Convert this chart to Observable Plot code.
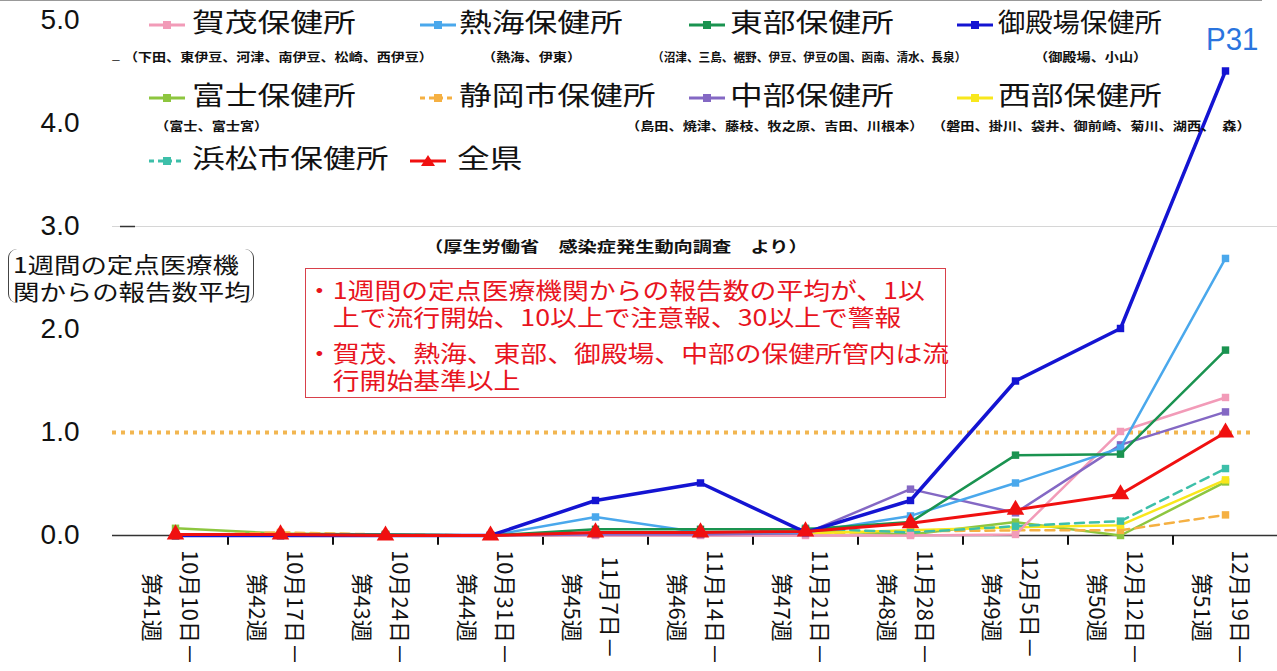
<!DOCTYPE html>
<html><head><meta charset="utf-8">
<script src="https://cdn.jsdelivr.net/npm/d3@7"></script>
<script src="https://cdn.jsdelivr.net/npm/@observablehq/plot@0.6"></script>
<style>
body{margin:0;background:#fff;}
#wrap{position:relative;width:1277px;height:671px;overflow:hidden;font-family:"Noto Sans CJK JP","Noto Sans",sans-serif;}
#chart{position:absolute;left:0;top:0;}
.abs{position:absolute;white-space:nowrap;line-height:1;}
.lg{font-size:26px;transform:scaleX(1.26);transform-origin:left center;color:#111;}
.sub{font-size:12px;font-weight:bold;transform:scaleX(1.18);transform-origin:left center;color:#111;}
.note{font-size:23px;color:#e8141e;transform:scaleX(1.165);transform-origin:left center;}
.yl{font-size:22px;color:#111;transform:scaleX(1.2);transform-origin:left center;}
</style></head>
<body><div id="wrap"><div id="chart"></div></div>
<script>
// ---- data ----
const weeks = ["第41週","第42週","第43週","第44週","第45週","第46週","第47週","第48週","第49週","第50週","第51週"];
const dates = ["10月10日－","10月17日－","10月24日－","10月31日－","11月7日－","11月14日－","11月21日－","11月28日－","12月5日－","12月12日－","12月19日－"];
const yTicks = [0, 1, 2, 3, 4, 5];
const seriesNames = ["賀茂保健所","熱海保健所","東部保健所","御殿場保健所","富士保健所","静岡市保健所","中部保健所","西部保健所","浜松市保健所","全県"];
const seriesAreas = ["（下田、東伊豆、河津、南伊豆、松崎、西伊豆）","（熱海、伊東）","（沼津、三島、裾野、伊豆、伊豆の国、函南、清水、長泉）","（御殿場、小山）","（富士、富士宮）","","（島田、焼津、藤枝、牧之原、吉田、川根本）","（磐田、掛川、袋井、御前崎、菊川、湖西、　森）","",""];
const kamo     = [0, 0, 0, 0, 0, 0, 0, 0, 0.01, 1.01, 1.34];
const atami    = [0, 0, 0, 0, 0.18, 0.03, 0.03, 0.19, 0.51, 0.85, 2.69];
const tobu     = [0, 0.01, 0.01, 0, 0.06, 0.06, 0.06, 0.13, 0.78, 0.79, 1.80];
const gotemba  = [0, 0, 0, 0, 0.34, 0.51, 0.03, 0.34, 1.50, 2.01, 4.51];
const fuji     = [0.07, 0.02, 0.01, 0, 0.02, 0.02, 0.05, 0.01, 0.13, 0, 0.52];
const shizuoka = [0, 0.03, 0.01, 0, 0.01, 0.01, 0.02, 0.04, 0.05, 0.05, 0.20];
const chubu    = [0, 0, 0, 0, 0.01, 0.01, 0.02, 0.45, 0.22, 0.88, 1.20];
const seibu    = [0, 0, 0, 0, 0.01, 0.01, 0.02, 0.05, 0.08, 0.10, 0.54];
const hamamatsu= [0, 0, 0, 0, 0.01, 0.01, 0.07, 0.03, 0.09, 0.14, 0.65];
const zenken   = [0.01, 0.01, 0, 0, 0.03, 0.03, 0.04, 0.12, 0.25, 0.40, 1.00];
const seriesValues = [kamo, atami, tobu, gotemba, fuji, shizuoka, chubu, seibu, hamamatsu, zenken];
const seriesColors = ["#f29bb8","#4aa8ec","#1a9350","#1414d2","#8dc63f","#f5b042","#8468c4","#f8e71c","#3dbfa9","#f01010"];
const seriesDashed = [false,false,false,false,false,true,false,false,true,false];
const drawOrder = [4,5,7,8,0,6,1,2,3,9];
const noteLines = ["・1週間の定点医療機関からの報告数の平均が、1以", "　上で流行開始、10以上で注意報、30以上で警報", "・賀茂、熱海、東部、御殿場、中部の保健所管内は流", "　行開始基準以上"];
const yLabelLines = ["1週間の定点医療機", "関からの報告数平均"];

// ---- build ----
const rows = [];
seriesNames.forEach((n, i) => seriesValues[i].forEach((v, j) => rows.push({series: n, week: weeks[j], value: v})));
const axisData = weeks.map((w, i) => ({week: w, label: dates[i] + "\n" + w}));

const marks = [
  Plot.ruleY([3], {stroke: "#d6d6d6", strokeWidth: 1}),
  Plot.ruleY([3], {stroke: "#333", strokeWidth: 1.5, insetLeft: 8, insetRight: 1142}),
  Plot.ruleY([1], {stroke: "#f2b650", strokeWidth: 4, strokeDasharray: "4,5", insetRight: 22}),
  Plot.ruleY([0], {stroke: "#333", strokeWidth: 1.5}),
  Plot.link(weeks.slice(0, -1), {x1: d => d, x2: d => d, y1: d => 0, y2: d => -0.09, dx: 52.5, stroke: "#111", strokeWidth: 2}),
  Plot.text(yTicks, {y: d => d, text: d => d.toFixed(1), frameAnchor: "left", dx: -33, textAnchor: "end", fontSize: 28, fontFamily: "Liberation Sans, Arial, sans-serif", fill: "#111", ariaLabel: "ytick"}),
  Plot.text(axisData, {x: "week", text: "label", frameAnchor: "bottom", dy: 72, rotate: 90, textAnchor: "middle", lineAnchor: "middle", lineHeight: 1.75, fontSize: 22, fill: "#111", ariaLabel: "xtick"})
];
for (const i of drawOrder) {
  const data = rows.filter(r => r.series === seriesNames[i]);
  const isAll = seriesNames[i] === "全県";
  marks.push(Plot.line(data, {x: "week", y: "value", stroke: seriesColors[i], strokeWidth: i === 3 ? 3.5 : (isAll ? 3 : 2.5), strokeDasharray: seriesDashed[i] ? "9,6" : null}));
  marks.push(Plot.dot(data, {x: "week", y: "value", symbol: isAll ? "triangle" : "square", r: isAll ? 6.5 : 4.2, fill: seriesColors[i], stroke: "none"}));
}

const chart = Plot.plot({
  width: 1277, height: 671,
  marginTop: 20, marginBottom: 136, marginLeft: 112, marginRight: 0,
  style: {fontFamily: "'Noto Sans CJK JP', sans-serif", background: "transparent"},
  x: {type: "point", domain: weeks, padding: 0.5, insetLeft: 10, axis: null},
  y: {domain: [0, 5], axis: null},
  marks
});
document.getElementById("chart").appendChild(chart);
// widen glyphs like the reference (horizontally stretched artwork)
chart.querySelectorAll('g[aria-label="ytick"] text').forEach(t => t.setAttribute("transform", t.getAttribute("transform") + " scale(1.3,1)"));
chart.querySelectorAll('g[aria-label="xtick"] text').forEach(t => t.setAttribute("transform", t.getAttribute("transform") + " scale(1,1.22)"));

// ---- overlay text: legend, notes ----
const wrap = document.getElementById("wrap");
function add(html, left, top, cls, style) {
  const d = document.createElement("div");
  d.className = "abs " + (cls || "");
  d.style.left = left + "px"; d.style.top = top + "px";
  if (style) Object.assign(d.style, style);
  d.innerHTML = html;
  wrap.appendChild(d);
  return d;
}
function swatch(i) {
  const c = seriesColors[i];
  const isAll = seriesNames[i] === "全県";
  const dash = seriesDashed[i] ? 'stroke-dasharray="5,4"' : "";
  const m = isAll ? `<path d="M18,0 L25,11 L11,11 Z" fill="${c}"/>` : `<rect x="14" y="2" width="8" height="8" fill="${c}"/>`;
  return `<svg width="36" height="12"><line x1="0" y1="6" x2="36" y2="6" stroke="${c}" stroke-width="3" ${dash}/>${m}</svg>`;
}
// legend layout
const lgPos = [
  [149, 22, 192], [420, 22, 459], [689, 22, 730], [957, 22, 998],
  [149, 95, 192], [420, 95, 459], [689, 95, 730], [957, 95, 998],
  [149, 158, 192], [410, 158, 457]
];
const subPos = [[124, 58, 1.17], [482, 58, 1.18], [652, 58, 0.97], [1034, 58, 1.18], [155, 127, 1.18], null, [626, 127, 1.18], [932, 127, 1.18], null, null];
seriesNames.forEach((n, i) => {
  const [sx, cy, tx] = lgPos[i];
  add(swatch(i), sx, cy - 6);
  const t = add(n, tx, cy - 14, "lg");
  if (i === 3) t.style.transform = "scaleX(1.05)";
  if (subPos[i]) add(seriesAreas[i], subPos[i][0], subPos[i][1] - 7, "sub", {transform: `scaleX(${subPos[i][2]})`});
});
add("_", 112, 46, "", {fontSize: "14px", color: "#333"});
add("P31", 1206, 23, "", {fontSize: "32px", color: "#2a74de", fontFamily: "Liberation Sans, Arial, sans-serif", transform: "scaleX(0.92)", transformOrigin: "left center"});
// y label with brackets
add("", 8, 249, "", {width: "246px", height: "54px", borderLeft: "1.5px solid #444", borderRight: "1.5px solid #444", borderRadius: "9px", boxSizing: "border-box"});
yLabelLines.forEach((s, k) => add(s, 13, 252 + k * 27, "yl"));
add("（厚生労働省　感染症発生動向調査　より）", 424, 238, "", {fontSize: "15px", fontWeight: "bold", color: "#111", transform: "scaleX(1.28)", transformOrigin: "left center"});
// red note box
add("", 305, 268, "", {width: "641px", height: "130px", border: "1.5px solid #d8404a", boxSizing: "border-box"});
const noteTops = [278, 305, 341, 368];
noteLines.forEach((s, k) => add(s, 306, noteTops[k], "note"));
add("", 0, 0, "", {width: "1262px", height: "1px", background: "#999"});
</script></body></html>
